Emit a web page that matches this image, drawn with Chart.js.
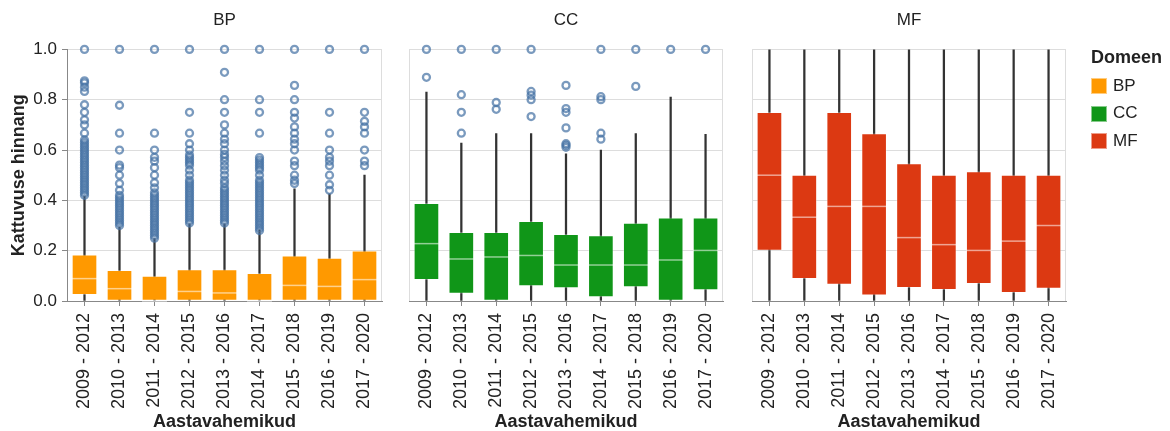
<!DOCTYPE html>
<html>
<head>
<meta charset="utf-8">
<script src="https://cdn.jsdelivr.net/npm/chart.js@4.4.1/dist/chart.umd.min.js"></script>
<style>
  html, body { margin: 0; padding: 0; background: #fff; }
  #wrap { position: relative; width: 1170px; height: 431px; overflow: hidden; font-family: "Liberation Sans", Arial, sans-serif; color: #222; }
  .layer { position: absolute; left: 0; top: 0; width: 1170px; height: 431px; }
  .lg { position: absolute; white-space: nowrap; }
  .sw { position: absolute; width: 14px; height: 14px; border: 1px solid rgba(255,255,255,0.5); }
</style>
</head>
<body>
<div id="wrap">
  <canvas id="c1" class="layer" width="1170" height="431"></canvas>
  <canvas id="c2" class="layer" width="1170" height="431"></canvas>
  <canvas id="c3" class="layer" width="1170" height="431"></canvas>
  <div id="legend"></div>
</div>
<script>
// ---------------- DATA ----------------
const categories = ['2009 - 2012','2010 - 2013','2011 - 2014','2012 - 2015','2013 - 2016','2014 - 2017','2015 - 2018','2016 - 2019','2017 - 2020'];
const domains = ['BP','CC','MF'];
const domainColors = ['#ff9900','#109618','#dc3912'];
const yTicks = [0, 0.2, 0.4, 0.6, 0.8, 1.0];
const xTitle = 'Aastavahemikud';
const yTitle = 'Kattuvuse hinnang';
const legendTitle = 'Domeen';

// BP
const bpWhiskerLow  = [0, 0, 0, 0, 0, 0, 0, 0, 0];
const bpQ1          = [0.025, 0, 0, 0, 0, 0, 0, 0, 0];
const bpMedian      = [0.089, 0.049, 0.0, 0.038, 0.032, 0.0, 0.062, 0.058, 0.085];
const bpQ3          = [0.184, 0.122, 0.099, 0.125, 0.125, 0.11, 0.18, 0.171, 0.199];
const bpWhiskerHigh = [0.417, 0.294, 0.248, 0.307, 0.307, 0.283, 0.446, 0.426, 0.5];
const bpOutliers = [
  [0.42,0.43,0.44,0.45,0.46,0.47,0.48,0.49,0.5,0.51,0.52,0.53,0.54,0.55,0.56,0.57,0.58,0.59,0.6,0.61,0.62,0.63,0.64,0.667,0.7,0.72,0.75,0.78,0.833,0.85,0.867,0.875,1.0],
  [0.3,0.31,0.32,0.33,0.34,0.35,0.36,0.37,0.38,0.39,0.4,0.41,0.42,0.44,0.467,0.5,0.53,0.54,0.6,0.667,0.778,1.0],
  [0.25,0.26,0.27,0.28,0.29,0.3,0.31,0.32,0.33,0.34,0.35,0.36,0.37,0.38,0.39,0.4,0.41,0.42,0.43,0.45,0.47,0.5,0.53,0.556,0.571,0.6,0.667,1.0],
  [0.31,0.32,0.33,0.34,0.35,0.36,0.37,0.38,0.39,0.4,0.41,0.42,0.43,0.44,0.45,0.46,0.47,0.48,0.5,0.52,0.54,0.55,0.56,0.57,0.58,0.6,0.625,0.667,0.75,1.0],
  [0.31,0.32,0.33,0.34,0.35,0.36,0.37,0.38,0.39,0.4,0.41,0.42,0.43,0.44,0.45,0.467,0.48,0.5,0.52,0.538,0.556,0.571,0.583,0.6,0.625,0.643,0.667,0.7,0.75,0.8,0.909,1.0],
  [0.28,0.29,0.3,0.31,0.32,0.33,0.34,0.35,0.36,0.37,0.38,0.39,0.4,0.41,0.42,0.43,0.44,0.45,0.46,0.47,0.48,0.5,0.52,0.53,0.54,0.55,0.56,0.57,0.667,0.75,0.8,1.0],
  [0.467,0.48,0.5,0.538,0.556,0.6,0.625,0.643,0.667,0.692,0.727,0.75,0.8,0.857,1.0],
  [0.44,0.462,0.5,0.538,0.556,0.571,0.6,0.667,0.75,1.0],
  [0.538,0.556,0.6,0.667,0.692,0.714,0.75,1.0]
];

// CC
const ccWhiskerLow  = [0, 0, 0, 0, 0, 0, 0, 0, 0];
const ccQ1          = [0.085, 0.03, 0.0, 0.06, 0.052, 0.016, 0.056, 0.0, 0.044];
const ccMedian      = [0.228, 0.167, 0.175, 0.181, 0.143, 0.143, 0.143, 0.163, 0.201];
const ccQ3          = [0.388, 0.273, 0.273, 0.317, 0.265, 0.26, 0.31, 0.331, 0.331];
const ccWhiskerHigh = [0.83, 0.628, 0.665, 0.665, 0.585, 0.6, 0.665, 0.81, 0.662];
const ccOutliers = [
  [0.889, 1.0],
  [0.667, 0.75, 0.82, 1.0],
  [0.762, 0.789, 1.0],
  [0.733, 0.8, 0.818, 0.833, 1.0],
  [0.611, 0.619, 0.625, 0.688, 0.75, 0.765, 0.857],
  [0.643, 0.667, 0.8, 0.812, 1.0],
  [0.853, 1.0],
  [1.0],
  [1.0]
];

// MF
const mfWhiskerLow  = [0, 0, 0, 0, 0, 0, 0, 0, 0];
const mfQ1          = [0.201, 0.089, 0.066, 0.023, 0.053, 0.045, 0.069, 0.033, 0.05];
const mfMedian      = [0.5, 0.333, 0.376, 0.376, 0.252, 0.224, 0.201, 0.238, 0.3];
const mfQ3          = [0.75, 0.5, 0.75, 0.665, 0.546, 0.5, 0.514, 0.5, 0.5];
const mfWhiskerHigh = [1, 1, 1, 1, 1, 1, 1, 1, 1];
const mfOutliers = [[],[],[],[],[],[],[],[],[]];

// ---------------- CHARTS ----------------
const FONT = '"Liberation Sans", Arial, sans-serif';
Chart.defaults.font.family = FONT;
Chart.defaults.color = '#222';

const framePlugin = {
  id: 'frame',
  beforeDraw(chart) {
    const a = chart.chartArea, ctx = chart.ctx;
    ctx.save();
    ctx.strokeStyle = '#dddddd';
    ctx.lineWidth = 1;
    ctx.strokeRect(Math.round(a.left) + 0.5, Math.round(a.top) + 0.5, Math.round(a.right - a.left) - 1, Math.round(a.bottom - a.top));
    ctx.restore();
  }
};

function buildPanel(canvasId, title, color, wl, q1, med, q3, wh, outl, padL, padR, showY) {
  const outlierPts = [];
  outl.forEach((arr, i) => arr.forEach(v => outlierPts.push({ x: categories[i], y: v })));
  return new Chart(document.getElementById(canvasId), {
    type: 'bar',
    plugins: [framePlugin],
    data: {
      labels: categories,
      datasets: [
        {
          type: 'line', label: 'outliers', data: outlierPts, showLine: false, order: 1, clip: false,
          pointRadius: 3.5, pointBorderWidth: 2.3, pointBackgroundColor: 'rgba(0,0,0,0)',
          pointBorderColor: 'rgba(70,115,165,0.72)', borderColor: 'rgba(70,115,165,0.72)'
        },
        {
          type: 'line', label: 'median', data: med, showLine: false, order: 2, clip: false,
          pointStyle: 'line', pointRadius: 12.5, pointBorderWidth: 1.5,
          pointBorderColor: 'rgba(255,255,255,0.55)', borderColor: 'rgba(255,255,255,0.55)'
        },
        {
          label: 'box', data: q1.map((v, i) => [v, q3[i]]), order: 3, grouped: false,
          barThickness: 25, backgroundColor: color, borderColor: 'rgba(255,255,255,0.3)',
          borderWidth: 1, borderSkipped: false
        },
        {
          label: 'whisker', data: wl.map((v, i) => [v, wh[i]]), order: 4, grouped: false,
          barThickness: 1.6, backgroundColor: '#333333', borderWidth: 0
        }
      ]
    },
    options: {
      responsive: false,
      animation: false,
      events: [],
      layout: { padding: { left: padL, right: padR, top: 0, bottom: 0 } },
      plugins: {
        legend: { display: false },
        tooltip: { enabled: false },
        title: {
          display: true, text: title, fullSize: false, color: '#222',
          font: { size: 17, weight: 'normal', lineHeight: 1.2 },
          padding: { top: 10, bottom: 19 }
        }
      },
      scales: {
        x: {
          type: 'category',
          offset: true,
          afterFit(s) { s.height = 130; },
          grid: { display: true, drawOnChartArea: false, drawTicks: true, offset: false, tickLength: 5, tickColor: '#888888' },
          border: { display: true, color: '#888888', width: 1 },
          ticks: { autoSkip: false, maxRotation: 90, minRotation: 90, padding: 7, color: '#222', font: { size: 18 } },
          title: { display: true, text: xTitle, color: '#222', font: { size: 18, weight: 'bold', lineHeight: 1 }, padding: { top: 0, bottom: 0 } }
        },
        y: {
          type: 'linear',
          min: 0, max: 1,
          afterFit(s) { s.width = showY ? 67 : 0; },
          afterBuildTicks(s) { s.ticks = yTicks.map(v => ({ value: v })); },
          grid: { color: '#dddddd', lineWidth: 1, drawTicks: showY, tickLength: 5, tickColor: '#888888' },
          border: { display: showY, color: '#888888', width: 1 },
          ticks: {
            display: showY, padding: 5, color: '#222', font: { size: 17 },
            callback: v => Number(v).toFixed(1)
          },
          title: { display: showY, text: yTitle, color: '#222', font: { size: 18, weight: 'bold', lineHeight: 1.2 }, padding: { top: 8, bottom: 0 } }
        }
      }
    }
  });
}

buildPanel('c1', domains[0], domainColors[0], bpWhiskerLow, bpQ1, bpMedian, bpQ3, bpWhiskerHigh, bpOutliers, 0, 788, true);
buildPanel('c2', domains[1], domainColors[1], ccWhiskerLow, ccQ1, ccMedian, ccQ3, ccWhiskerHigh, ccOutliers, 409, 447, false);
buildPanel('c3', domains[2], domainColors[2], mfWhiskerLow, mfQ1, mfMedian, mfQ3, mfWhiskerHigh, mfOutliers, 752, 104, false);

// ---------------- LEGEND (HTML text) ----------------
const lg = document.getElementById('legend');
const t = document.createElement('div');
t.className = 'lg';
t.style.cssText = 'left:1091px;top:47px;font-size:18px;line-height:20px;font-weight:bold;';
t.textContent = legendTitle;
lg.appendChild(t);
domains.forEach((d, i) => {
  const cy = 85.5 + i * 27.5;
  const sw = document.createElement('div');
  sw.className = 'sw';
  sw.style.left = '1091px';
  sw.style.top = (cy - 7.5) + 'px';
  sw.style.background = domainColors[i];
  lg.appendChild(sw);
  const tx = document.createElement('div');
  tx.className = 'lg';
  tx.style.cssText = 'left:1113px;font-size:17px;line-height:20px;top:' + (cy - 10) + 'px;';
  tx.textContent = d;
  lg.appendChild(tx);
});
</script>
</body>
</html>
